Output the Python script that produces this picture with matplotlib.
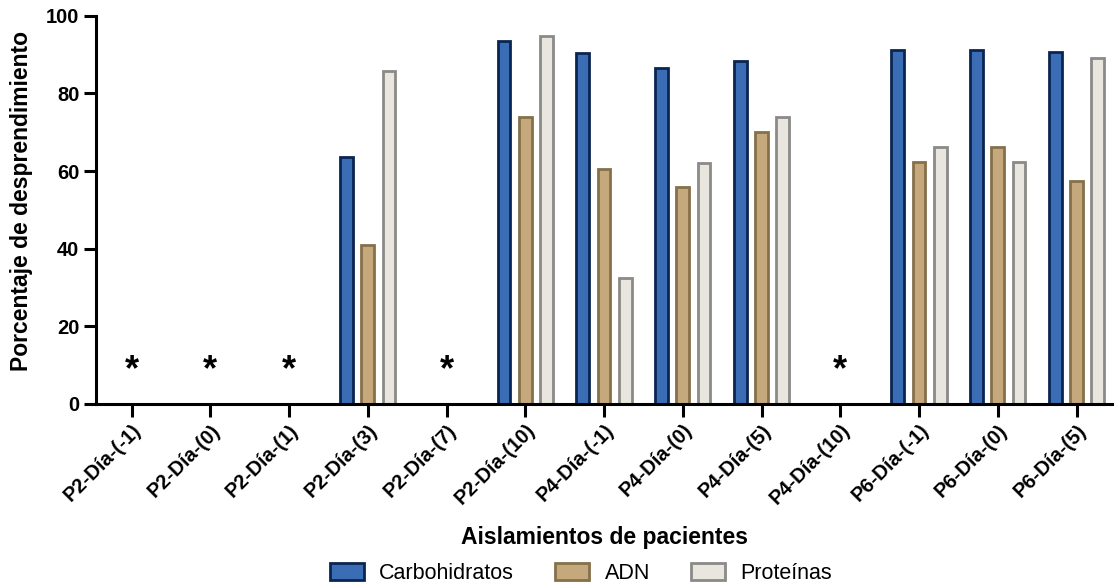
import matplotlib
matplotlib.use("Agg")
import matplotlib.pyplot as plt
from matplotlib.patches import Patch
import numpy as np

plt.rcParams['font.family'] = ['Liberation Sans', 'DejaVu Sans']

categories = ["P2-Día-(-1)", "P2-Día-(0)", "P2-Día-(1)", "P2-Día-(3)", "P2-Día-(7)",
              "P2-Día-(10)", "P4-Día-(-1)", "P4-Día-(0)", "P4-Día-(5)", "P4-Día-(10)",
              "P6-Día-(-1)", "P6-Día-(0)", "P6-Día-(5)"]
# 0 = not detected (marked with *)
carbohidratos = [0, 0, 0, 63.7, 0, 93.6, 90.4, 86.5, 88.4, 0, 91.2, 91.2, 90.8]
adn = [0, 0, 0, 41.0, 0, 74.0, 60.5, 55.8, 70.0, 0, 62.3, 66.2, 57.4]
proteinas = [0, 0, 0, 85.7, 0, 94.7, 32.4, 62.0, 73.9, 0, 66.2, 62.3, 89.1]
sin_dato = [0, 1, 2, 4, 9]
asterisk_y = 8.5

series = [
    ("Carbohidratos", carbohidratos, "#3b6db4", "#0b2553"),
    ("ADN", adn, "#c5a97d", "#85704a"),
    ("Proteínas", proteinas, "#e9e5df", "#8a8a87"),
]

fig = plt.figure(figsize=(11.17, 5.88), dpi=100)
ax = fig.add_axes([0.086, 0.313, 0.9095, 0.66])

x = np.arange(len(categories))
width = 0.16
offsets = [-0.27, 0.0, 0.27]
handles = []
for (name, vals, fc, ec), off in zip(series, offsets):
    vals = np.array(vals)
    mask = vals > 0
    ax.bar(x[mask] + off, vals[mask], width=width, color=fc, edgecolor=ec, linewidth=2)
    handles.append(Patch(facecolor=fc, edgecolor=ec, linewidth=2, label=name))

for i in sin_dato:
    ax.text(i, asterisk_y, "*", ha="center", va="center", fontsize=26, fontweight="bold")

ax.set_xlim(-0.45, len(categories) - 0.55)
ax.set_ylim(0, 100)
ax.set_yticks([0, 20, 40, 60, 80, 100])
ax.set_xticks(x)
ax.set_xticklabels(categories, rotation=45, ha="right", rotation_mode="anchor",
                   fontsize=14.5, fontweight="bold")
for lab in ax.get_yticklabels():
    lab.set_fontsize(14.5)
    lab.set_fontweight("bold")

for side in ["top", "right"]:
    ax.spines[side].set_visible(False)
for side in ["left", "bottom"]:
    ax.spines[side].set_linewidth(2.2)
ax.tick_params(axis="both", width=2.2, length=9, pad=3)

ax.set_ylabel("Porcentaje de desprendimiento", fontsize=16.5, fontweight="bold")
ax.yaxis.set_label_coords(-0.062, 0.523)
ax.set_xlabel("Aislamientos de pacientes", fontsize=16.5, fontweight="bold", labelpad=13)

fig.legend(handles=handles, loc="lower center", bbox_to_anchor=(0.52, -0.026), ncol=3,
           frameon=False, fontsize=15.5, handlelength=1.6, handleheight=0.8,
           handletextpad=0.7, columnspacing=1.9)

fig.savefig("out.png", dpi=100)
